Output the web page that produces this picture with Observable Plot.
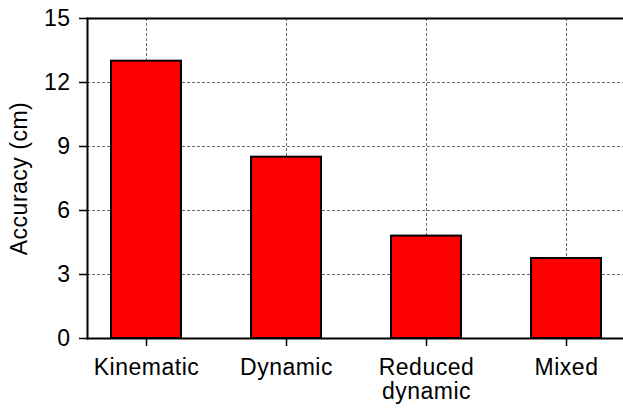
<!DOCTYPE html>
<html>
<head>
<meta charset="utf-8">
<script src="https://cdn.jsdelivr.net/npm/d3@7"></script>
<script src="https://cdn.jsdelivr.net/npm/@observablehq/plot@0.6"></script>
<style>
  html, body { margin: 0; padding: 0; background: #fff; overflow: hidden; }
  #chart svg { display: block; overflow: hidden; }
</style>
</head>
<body>
<div id="chart"></div>
<script>
// Positioning accuracy per orbit determination approach
const methods = ["Kinematic", "Dynamic", "Reduced\ndynamic", "Mixed"];
const accuracy = [13.0, 8.5, 4.8, 3.75];
const yTicks = [0, 3, 6, 9, 12, 15];
const gridTicks = [3, 6, 9, 12];

const data = methods.map((m, i) => ({method: m, accuracy: accuracy[i]}));

const gridStyle = {stroke: "#6a6a6a", strokeOpacity: 1, strokeWidth: 1, strokeDasharray: "3,2"};

const chart = Plot.plot({
  width: 623,
  height: 408,
  marginLeft: 87,
  marginRight: 0,
  marginTop: 18,
  marginBottom: 70,
  style: {
    fontFamily: "'Liberation Sans', Arial, sans-serif",
    fontSize: "23px",
    letterSpacing: "0.5px",
    color: "#000",
    background: "#fff"
  },
  x: {
    type: "band",
    domain: methods,
    range: [76, 636],
    paddingInner: 0.5,
    paddingOuter: 0.25,
    label: null
  },
  y: {
    domain: [0, 15],
    label: null
  },
  marks: [
    Plot.gridY(gridTicks, gridStyle),
    Plot.gridX(gridStyle),
    Plot.barY(data, {x: "method", y: "accuracy", fill: "#ff0000", stroke: "#000", strokeWidth: 2}),
    Plot.frame({anchor: "top", strokeWidth: 2}),
    Plot.frame({anchor: "bottom", strokeWidth: 2}),
    Plot.frame({anchor: "left", strokeWidth: 2}),
    Plot.axisY(yTicks, {
      tickSize: 8,
      tickPadding: 9,
      strokeWidth: 1.5,
      label: "Accuracy (cm)",
      labelAnchor: "center",
      labelArrow: "none",
      labelOffset: 77
    }),
    Plot.axisX({
      tickSize: 8,
      tickPadding: 11,
      strokeWidth: 1.5,
      lineHeight: 1.05,
      label: null
    })
  ]
});

document.getElementById("chart").append(chart);
</script>
</body>
</html>
